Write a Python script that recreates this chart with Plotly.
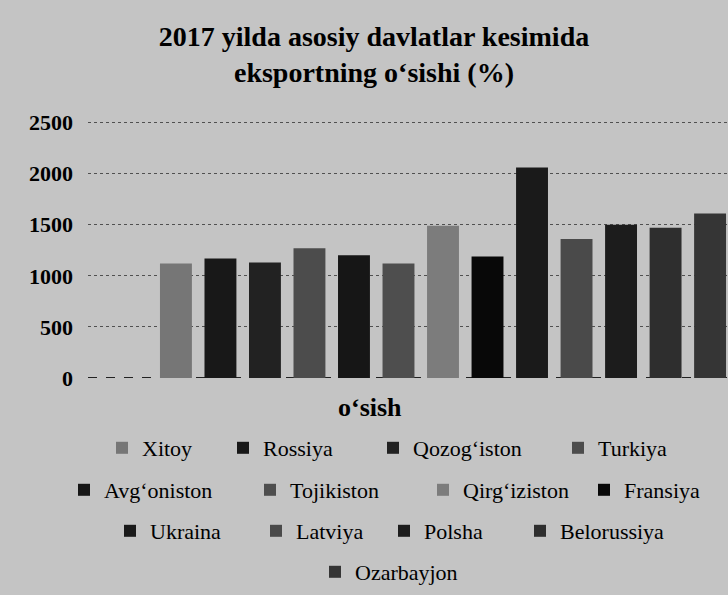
import plotly.graph_objects as go

# ---- data ----
countries = [
    "Xitoy", "Rossiya", "Qozog‘iston", "Turkiya",
    "Avg‘oniston", "Tojikiston", "Qirg‘iziston", "Fransiya",
    "Ukraina", "Latviya", "Polsha", "Belorussiya",
    "Ozarbayjon",
]
growth = [1120, 1170, 1130, 1270, 1200, 1120, 1490, 1190, 2060, 1360, 1500, 1470, 1610]
category = "o‘sish"
y_ticks = [0, 500, 1000, 1500, 2000, 2500]

# ---- styling ----
FONT = "'Liberation Serif', 'Times New Roman', Times, serif"
W, H = 728, 595
BG = "#c4c4c4"
bar_colors = [
    "#767676", "#181818", "#222222", "#4c4c4c",
    "#161616", "#4e4e4e", "#7c7c7c", "#080808",
    "#1a1a1a", "#4a4a4a", "#1c1c1c", "#2e2e2e",
    "#353535",
]
legend_row = [1, 1, 1, 1, 2, 2, 2, 2, 3, 3, 3, 3, 4]
entry_width = [76, 105, 140, 75, 141, 128, 116, 78, 101, 83, 91, 110, 117]
row_left = {1: 102, 2: 64, 3: 110, 4: 315}
row_mid = {1: 448, 2: 490, 3: 531, 4: 572}

PLOT_L, PLOT_T, PLOT_B = 88, 120, 378
Y_TOP = 2500 * (PLOT_B - PLOT_T) / 255.5   # puts the 2500 line just inside the frame


def legend_key(row):
    return "legend" if row == 1 else f"legend{row}"


fig = go.Figure()
for name, val, col, row, ew in zip(countries, growth, bar_colors, legend_row, entry_width):
    fig.add_trace(go.Bar(
        x=[category], y=[val], name=name,
        marker=dict(color=col, line=dict(width=0)),
        legend=legend_key(row), legendwidth=ew,
        hovertemplate="%{fullData.name}: %{y}<extra></extra>",
    ))

fig.update_layout(
    width=W, height=H,
    margin=dict(l=PLOT_L, r=0, t=PLOT_T, b=H - PLOT_B, autoexpand=False),
    paper_bgcolor=BG, plot_bgcolor=BG,
    barmode="group", bargap=0.185, bargroupgap=0.283,
    title=dict(
        text="2017 yilda asosiy davlatlar kesimida<br>eksportning o‘sishi (%)",
        font=dict(family=FONT, size=28, color="black", weight="bold"),
        x=374 / W, xref="container", xanchor="center",
        y=1 - 46 / H, yref="container", yanchor="middle",
    ),
    xaxis=dict(range=[-0.5, 0.4014], showticklabels=False, showgrid=False,
               zeroline=False, showline=False, ticks=""),
    yaxis=dict(range=[0, Y_TOP], tickvals=y_ticks,
               tickfont=dict(family=FONT, size=22, color="black", weight="bold"),
               showgrid=True, gridcolor="#505050", griddash="dot", gridwidth=1,
               zeroline=False, showline=False, ticks="", ticklabelstandoff=14),
    showlegend=True,
)

# dashed baseline along zero
fig.add_shape(type="line", xref="paper", x0=0, x1=1, yref="y", y0=0, y1=0,
              line=dict(color="#222222", width=2, dash="dash"), layer="below")

# category caption under the bars
fig.add_annotation(
    text=category, showarrow=False,
    xref="paper", x=(370 - PLOT_L) / (W - PLOT_L),
    yref="paper", y=(PLOT_B - 407) / (PLOT_B - PLOT_T),
    xanchor="center", yanchor="middle",
    font=dict(family=FONT, size=26, color="black", weight="bold"),
)

# one legend per row of entries
for row in (1, 2, 3, 4):
    fig.update_layout({legend_key(row): dict(
        orientation="h",
        xref="container", x=row_left[row] / W, xanchor="left",
        yref="container", y=1 - row_mid[row] / H, yanchor="middle",
        bgcolor="rgba(0,0,0,0)", borderwidth=0,
        font=dict(family=FONT, size=22, color="black"),
        traceorder="normal",
    )})

fig.write_html("out.html")
